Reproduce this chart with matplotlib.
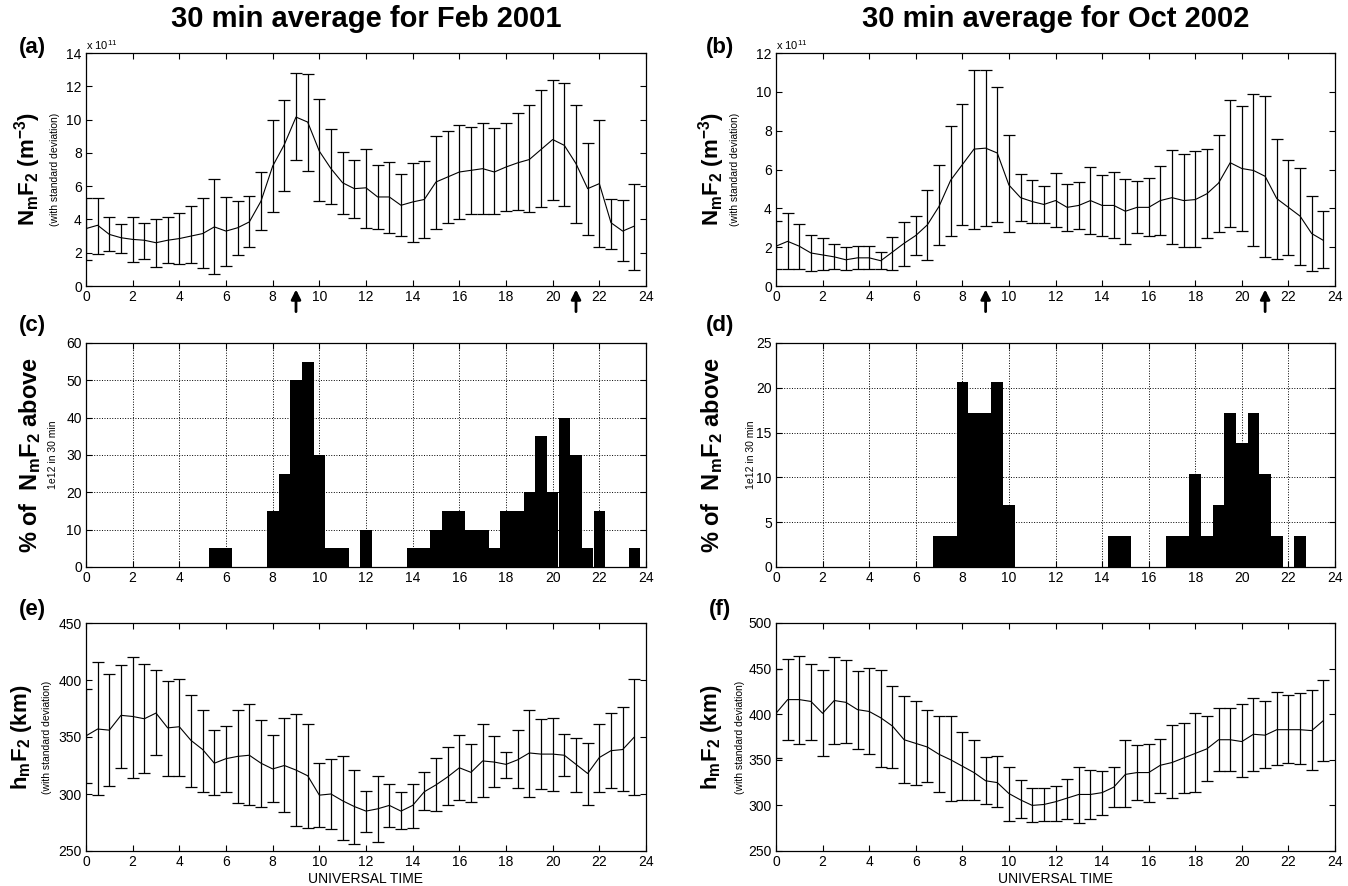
import matplotlib
matplotlib.use('Agg')
import matplotlib.pyplot as plt
import numpy as np

plt.rcParams['font.family'] = ['Liberation Sans', 'DejaVu Sans']
plt.rcParams['mathtext.fontset'] = 'custom'
plt.rcParams['mathtext.rm'] = 'Liberation Sans'
plt.rcParams['mathtext.bf'] = 'Liberation Sans:bold'
plt.rcParams['mathtext.it'] = 'Liberation Sans:italic'

# universal time, half-hour steps
ut = np.arange(0, 24, 0.5)

# (a) Feb 2001 NmF2, units of 1e11 m^-3: mean, lower and upper end of std bar
feb_ne = [3.45, 3.65, 3.1, 2.9, 2.8, 2.75, 2.6, 2.75, 2.85, 3.0, 3.15, 3.55,
          3.3, 3.5, 3.85, 5.1, 7.2, 8.5, 10.15, 9.85, 8.1, 7.05, 6.2, 5.85,
          5.9, 5.35, 5.35, 4.85, 5.05, 5.2, 6.25, 6.55, 6.85, 6.95, 7.05, 6.85,
          7.15, 7.4, 7.6, 8.2, 8.8, 8.45, 7.35, 5.85, 6.15, 3.8, 3.3, 3.6]
feb_ne_hi = [5.3, 5.3, 4.15, 3.75, 4.15, 3.8, 4.05, 4.15, 4.4, 4.8, 5.3, 6.45,
             5.35, 5.1, 5.4, 6.85, 9.95, 11.2, 12.8, 12.75, 11.25, 9.45, 8.05, 7.55,
             8.25, 7.3, 7.45, 6.75, 7.4, 7.5, 9.0, 9.3, 9.65, 9.55, 9.8, 9.5,
             9.8, 10.4, 10.9, 11.8, 12.35, 12.2, 10.9, 8.6, 9.95, 5.25, 5.15, 6.1]
feb_ne_lo = [1.55, 1.9, 2.1, 2.0, 1.45, 1.6, 1.15, 1.4, 1.35, 1.4, 1.1, 0.7,
             1.2, 1.85, 2.35, 3.35, 4.45, 5.7, 7.6, 6.9, 5.1, 4.9, 4.3, 4.1,
             3.5, 3.4, 3.2, 3.0, 2.65, 2.9, 3.4, 3.8, 4.05, 4.35, 4.35, 4.3,
             4.5, 4.55, 4.45, 4.75, 5.15, 4.8, 3.8, 3.05, 2.35, 2.25, 1.5, 0.95]

# (b) Oct 2002 NmF2
oct_ne = [2.05, 2.3, 2.05, 1.7, 1.6, 1.5, 1.35, 1.45, 1.45, 1.3, 1.75, 2.2,
          2.6, 3.15, 4.1, 5.45, 6.25, 7.05, 7.1, 6.85, 5.2, 4.55, 4.35, 4.2,
          4.4, 4.05, 4.15, 4.4, 4.15, 4.15, 3.85, 4.05, 4.05, 4.4, 4.55, 4.4,
          4.45, 4.75, 5.3, 6.35, 6.05, 5.95, 5.65, 4.5, 4.05, 3.6, 2.7, 2.35]
oct_ne_hi = [3.35, 3.75, 3.2, 2.65, 2.45, 2.15, 2.0, 2.05, 2.05, 1.75, 2.5, 3.3,
             3.6, 4.95, 6.25, 8.25, 9.35, 11.15, 11.1, 10.25, 7.8, 5.75, 5.45, 5.15,
             5.8, 5.25, 5.35, 6.15, 5.7, 5.85, 5.5, 5.4, 5.55, 6.2, 7.0, 6.8,
             6.95, 7.05, 7.8, 9.6, 9.25, 9.9, 9.8, 7.55, 6.5, 6.1, 4.65, 3.85]
oct_ne_lo = [0.9, 0.9, 0.9, 0.75, 0.8, 0.9, 0.8, 0.85, 0.9, 0.9, 0.8, 1.05,
             1.6, 1.35, 2.1, 2.6, 3.15, 2.95, 3.1, 3.3, 2.8, 3.35, 3.25, 3.25,
             3.05, 2.85, 2.95, 2.7, 2.6, 2.45, 2.15, 2.75, 2.55, 2.65, 2.15, 2.0,
             2.0, 2.45, 2.8, 3.05, 2.85, 2.05, 1.5, 1.4, 1.6, 1.1, 0.75, 0.95]

# (c), (d) percentage of NmF2 above 1e12 in each 30 min bin
feb_pct = [0, 0, 0, 0, 0, 0, 0, 0, 0, 0, 0, 5,
           5, 0, 0, 0, 15, 25, 50, 55, 30, 5, 5, 0,
           10, 0, 0, 0, 5, 5, 10, 15, 15, 10, 10, 5,
           15, 15, 20, 35, 20, 40, 30, 5, 15, 0, 0, 5]
oct_pct = [0, 0, 0, 0, 0, 0, 0, 0, 0, 0, 0, 0,
           0, 0, 3.45, 3.45, 20.69, 17.24, 17.24, 20.69, 6.9, 0, 0, 0,
           0, 0, 0, 0, 0, 3.45, 3.45, 0, 0, 0, 3.45, 3.45,
           10.34, 3.45, 6.9, 17.24, 13.79, 17.24, 10.34, 3.45, 0, 3.45, 0, 0]

# (e) Feb 2001 hmF2 (km)
feb_hm = [351, 357, 356, 369, 368, 366, 371, 358, 359, 347, 339, 327,
          331, 333, 334, 327, 322, 325, 321, 316, 299, 300, 294, 289,
          285, 287, 290, 285, 290, 302, 308, 315, 323, 319, 329, 328,
          326, 330, 336, 335, 335, 334, 326, 318, 332, 338, 339, 350]
feb_hm_hi = [392, 416, 405, 413, 420, 414, 409, 399, 401, 387, 374, 356,
             360, 374, 379, 365, 352, 367, 370, 361, 327, 331, 333, 321,
             303, 316, 309, 302, 309, 319, 332, 341, 352, 344, 361, 351,
             337, 356, 374, 366, 367, 353, 349, 345, 361, 371, 376, 401]
feb_hm_lo = [310, 299, 307, 323, 314, 318, 334, 316, 316, 306, 302, 299,
             302, 292, 290, 289, 293, 284, 272, 270, 271, 269, 260, 256,
             267, 258, 271, 269, 270, 286, 285, 290, 295, 293, 297, 306,
             314, 305, 297, 304, 303, 316, 302, 290, 302, 305, 303, 299]

# (f) Oct 2002 hmF2 (km)
oct_hm = [401, 416, 416, 414, 401, 415, 413, 405, 403, 396, 387, 372,
          368, 364, 356, 350, 343, 336, 327, 325, 313, 306, 300, 301,
          304, 308, 312, 312, 314, 320, 334, 336, 336, 344, 347, 352,
          357, 362, 372, 372, 370, 378, 377, 383, 383, 383, 382, 393]
oct_hm_hi = [450, 460, 464, 455, 448, 463, 459, 447, 451, 448, 431, 420,
             415, 405, 398, 398, 381, 372, 353, 354, 342, 328, 319, 319,
             321, 329, 342, 339, 338, 342, 372, 366, 367, 373, 388, 390,
             401, 398, 407, 407, 411, 418, 414, 424, 421, 423, 426, 438]
oct_hm_lo = [352, 372, 367, 372, 354, 367, 368, 362, 356, 342, 341, 325,
             322, 326, 315, 305, 306, 306, 301, 298, 283, 286, 282, 283,
             283, 285, 281, 285, 289, 298, 298, 306, 304, 314, 308, 314,
             315, 327, 338, 338, 331, 338, 341, 344, 347, 345, 339, 349]

# sunrise / sunset markers
arrow_times = [9, 21]

titles = ['30 min average for Feb 2001', '30 min average for Oct 2002']
xticks = np.arange(0, 25, 2)

fig = plt.figure(figsize=(13.48, 8.86), dpi=100)
W, H = 1348, 886


def add_ax(left_px, top_px, right_px, bottom_px):
    return fig.add_axes([left_px / W, 1 - bottom_px / H,
                         (right_px - left_px) / W, (bottom_px - top_px) / H])


def style(ax, ylim, yticks):
    ax.set_xlim(0, 24)
    ax.set_ylim(*ylim)
    ax.set_xticks(xticks)
    ax.set_yticks(yticks)
    ax.tick_params(direction='in', top=True, right=True, length=4,
                   labelsize=10, width=0.8, pad=3)
    for lab in ax.get_xticklabels() + ax.get_yticklabels():
        lab.set_family(['Liberation Sans Narrow', 'Liberation Sans'])
    for s in ax.spines.values():
        s.set_linewidth(0.9)


def ylabels(ax, big, small, off_big, off_small, big_size=16):
    wpx = ax.get_position().width * W
    ax.text(-off_big / wpx, 0.5, big, transform=ax.transAxes, rotation=90,
            ha='center', va='center', fontsize=big_size)
    ax.text(-off_small / wpx, 0.5, small, transform=ax.transAxes, rotation=90,
            ha='center', va='center', fontsize=7.5)


def panel_tag(x_px, y_px, s):
    fig.text(x_px / W, 1 - y_px / H, s, ha='center', va='center',
             fontsize=16, fontweight='bold')


def errplot(ax, mean, lo, hi):
    mean = np.asarray(mean)
    yerr = [mean - np.asarray(lo), np.asarray(hi) - mean]
    ax.errorbar(ut, mean, yerr=yerr, color='k', lw=0.8, elinewidth=0.9,
                capsize=4, capthick=0.9)


cols = [(86, 646), (776, 1335)]
rows = [(53, 286), (343, 567), (623, 851)]

ne_lab = r'$\mathbf{N_mF_2\ (m^{-3})}$'
hm_lab = r'$\mathbf{h_mF_2\ (km)}$'
pct_lab = r'$\mathbf{\%\ of\ \ N_mF_2\ above}$'

# top row: NmF2
for j, (mean, lo, hi, ymax, offs) in enumerate([
        (feb_ne, feb_ne_lo, feb_ne_hi, 14, (58, 31)),
        (oct_ne, oct_ne_lo, oct_ne_hi, 12, (64, 41))]):
    ax = add_ax(cols[j][0], rows[0][0], cols[j][1], rows[0][1])
    errplot(ax, mean, lo, hi)
    style(ax, (0, ymax), np.arange(0, ymax + 1, 2))
    ax.text(0.0, 1.005, r'x 10$^{11}$', transform=ax.transAxes,
            ha='left', va='bottom', fontsize=8)
    ylabels(ax, ne_lab, '(with standard deviation)', *offs)
    for t in arrow_times:
        ax.annotate('', xy=(t, -0.015), xytext=(t, -0.11),
                    xycoords=('data', 'axes fraction'),
                    textcoords=('data', 'axes fraction'),
                    arrowprops=dict(arrowstyle='-|>', color='k', lw=2,
                                    mutation_scale=14, shrinkA=0, shrinkB=0),
                    annotation_clip=False)
    cx = (cols[j][0] + cols[j][1]) / 2
    fig.text(cx / W, 1 - 19 / H, titles[j], ha='center', va='center',
             fontsize=21, fontweight='bold')

# middle row: percentage histograms
for j, (pct, ymax, step, offs) in enumerate([
        (feb_pct, 60, 10, (56, 33)),
        (oct_pct, 25, 5, (64, 25))]):
    ax = add_ax(cols[j][0], rows[1][0], cols[j][1], rows[1][1])
    ax.bar(ut, pct, width=0.5, color='k', linewidth=0, zorder=2)
    style(ax, (0, ymax), np.arange(0, ymax + 1, step))
    ax.grid(True, color='k', linestyle=':', linewidth=0.7, zorder=0)
    ax.set_axisbelow(True)
    ylabels(ax, pct_lab, '1e12 in 30 min', *offs, big_size=17)

# bottom row: hmF2
for j, (mean, lo, hi, ymax, offs) in enumerate([
        (feb_hm, feb_hm_lo, feb_hm_hi, 450, (65, 39)),
        (oct_hm, oct_hm_lo, oct_hm_hi, 500, (64, 36))]):
    ax = add_ax(cols[j][0], rows[2][0], cols[j][1], rows[2][1])
    errplot(ax, mean, lo, hi)
    style(ax, (250, ymax), np.arange(250, ymax + 1, 50))
    ylabels(ax, hm_lab, '(with standard deviation)', *offs)
    ax.set_xlabel('UNIVERSAL TIME', fontsize=10, labelpad=2,
                  family=['Liberation Sans Narrow', 'Liberation Sans'])

for j, tags in enumerate([['(a)', '(c)', '(e)'], ['(b)', '(d)', '(f)']]):
    x_px = 32 if j == 0 else 720
    for tag, y_px in zip(tags, [48, 325, 610]):
        panel_tag(x_px, y_px, tag)

fig.savefig('out.png', dpi=100)
